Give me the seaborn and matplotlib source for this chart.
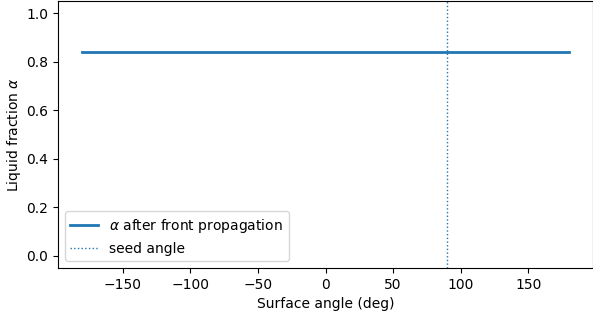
import matplotlib
matplotlib.use("Agg")
import matplotlib.pyplot as plt
import seaborn as sns
import pandas as pd

# Liquid fraction after front propagation, per surface angle
angles = [-180, -135, -90, -45, 0, 45, 90, 135, 180]
alpha_values = [0.84, 0.84, 0.84, 0.84, 0.84, 0.84, 0.84, 0.84, 0.84]
seed_angle = 90

x_ticks = [-150, -100, -50, 0, 50, 100, 150]
y_ticks = [0.0, 0.2, 0.4, 0.6, 0.8, 1.0]

plt.rcParams["font.family"] = ["DejaVu Sans"]
plt.rcParams["font.size"] = 10

df = pd.DataFrame({"angle": angles, "alpha": alpha_values})

fig = plt.figure(figsize=(5.93, 3.2), dpi=100)
ax = fig.add_axes([0.0978, 0.1625, 0.9025, 0.834])

sns.lineplot(data=df, x="angle", y="alpha", ax=ax, color="#1f77b4",
             linewidth=2, label=r"$\alpha$ after front propagation")
ax.axvline(seed_angle, color="#1f77b4", linestyle=":", linewidth=1,
           label="seed angle")

ax.set_xlim(-198, 198)
ax.set_ylim(-0.05, 1.05)
ax.set_xticks(x_ticks)
ax.set_yticks(y_ticks)
ax.set_xlabel("Surface angle (deg)")
ax.set_ylabel(r"Liquid fraction $\alpha$", labelpad=2)
ax.legend(loc="lower left")

fig.savefig("out.png", dpi=100)
